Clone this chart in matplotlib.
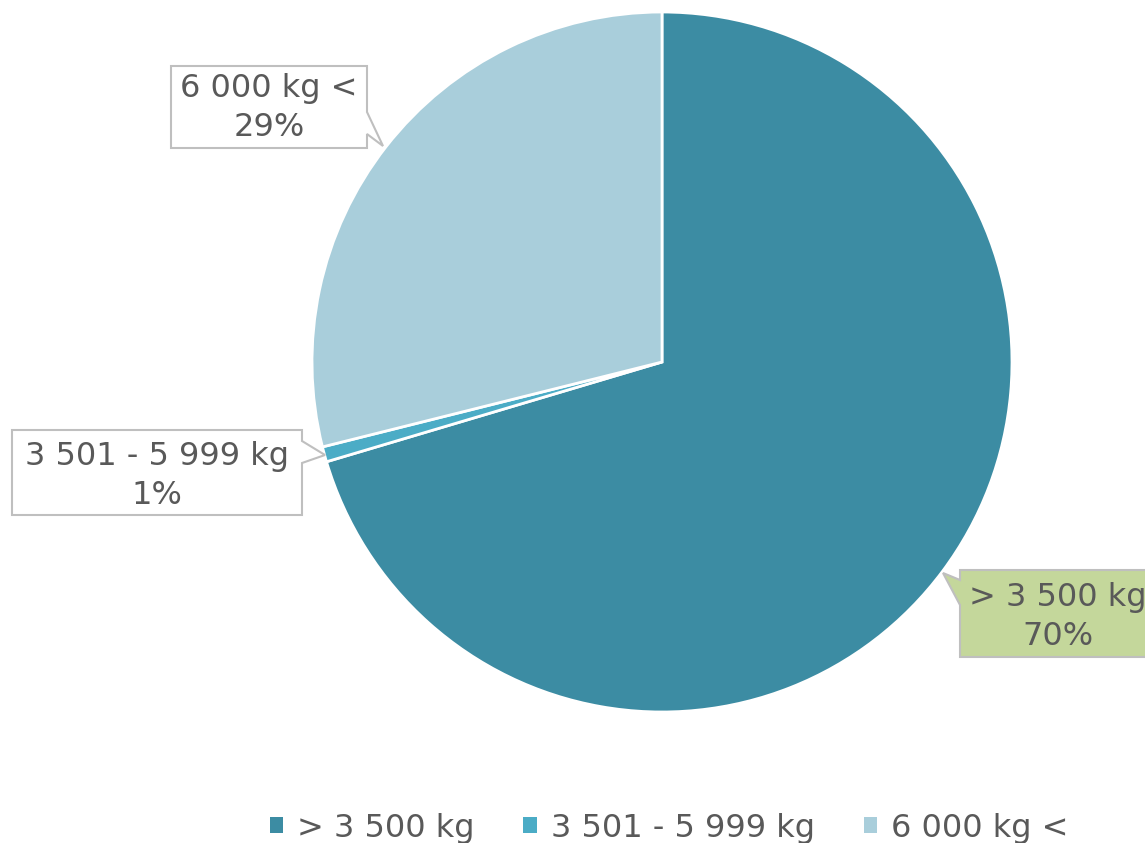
import matplotlib
matplotlib.use('Agg')
import matplotlib.pyplot as plt
from matplotlib.patches import Polygon, Patch

# data
categories = ['> 3 500 kg', '3 501 - 5 999 kg', '6 000 kg <']
shares = [70.4, 0.7, 28.9]
colors = ['#3C8CA3', '#4BACC6', '#A9CEDB']

TEXT = '#595959'
EDGE = '#BFBFBF'
W, H = 1145, 843

fig = plt.figure(figsize=(W / 100, H / 100), dpi=100)
ax = fig.add_axes([0, 0, 1, 1])

# y axis is flipped below, so counterclock in data = clockwise on screen
ax.pie(shares, colors=colors, startangle=-90, counterclock=True,
       center=(662, 362), radius=350, frame=True,
       wedgeprops=dict(edgecolor='white', linewidth=2))
ax.set_xlim(0, W)
ax.set_ylim(H, 0)  # pixel coords, y down
ax.set_aspect('equal')
ax.axis('off')

# callout boxes (wedge-rect shape), outline points in pixels, top to bottom
callouts = [
    ([(171, 66), (367, 66), (367, 112), (383, 146), (367, 134), (367, 148), (171, 148)],
     'white', (269, 108)),
    ([(12, 430), (302, 430), (302, 441), (325, 455), (302, 463), (302, 515), (12, 515)],
     'white', (157, 476)),
    ([(960, 570), (1160, 570), (1160, 657), (960, 657), (960, 605), (943, 573), (960, 580)],
     '#C4D79B', (1058, 617)),
]
order = [2, 1, 0]  # which category each box belongs to
for (pts, fc, (tx, ty)), cat_i in zip(callouts, order):
    ax.add_patch(Polygon(pts, closed=True, facecolor=fc, edgecolor=EDGE,
                         linewidth=1.5, zorder=5))
    ax.text(tx, ty, f'{categories[cat_i]}\n{round(shares[cat_i])}%',
            ha='center', va='center', fontsize=23, color=TEXT,
            linespacing=1.3, zorder=6)

handles = [Patch(facecolor=c, edgecolor='none') for c in colors]
leg = fig.legend(handles, categories, ncol=3, loc='center',
                 bbox_to_anchor=(0.5845, 1 - 828 / H), frameon=False,
                 fontsize=23, handlelength=0.42, handleheight=0.42,
                 handletextpad=0.45, columnspacing=1.52)
for t in leg.get_texts():
    t.set_color(TEXT)

fig.savefig('out.png', dpi=100)
